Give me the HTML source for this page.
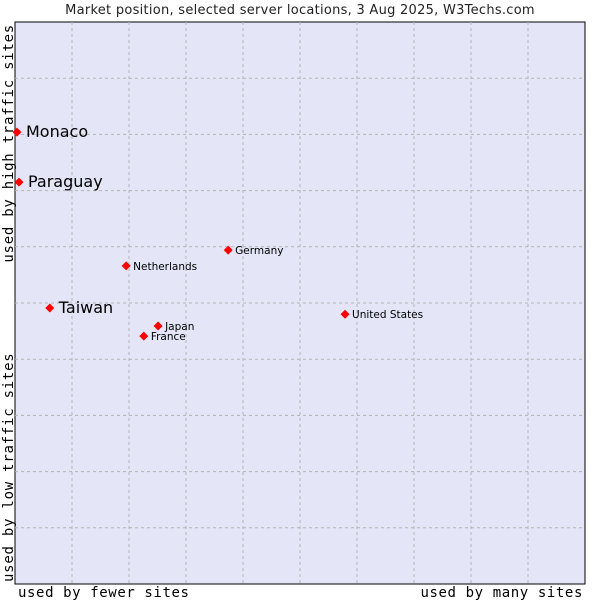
<!DOCTYPE html>
<html><head><meta charset="utf-8"><style>
body{margin:0;background:#fff;width:600px;height:600px;overflow:hidden}
text{font-family:"DejaVu Sans","Liberation Sans",sans-serif}
.mono{font-family:"DejaVu Sans Mono","Liberation Mono",monospace;letter-spacing:0.6px}
</style></head><body>
<svg id="chart" width="600" height="600" xmlns="http://www.w3.org/2000/svg">
<text x="300" y="14" text-anchor="middle" font-size="13" letter-spacing="0.27" fill="#222">Market position, selected server locations, 3 Aug 2025, W3Techs.com</text>
<rect x="15" y="22" width="570" height="562" fill="#e4e6f8" stroke="#000" stroke-width="1"/>
<g id="grid"></g>
<g id="pts"></g>
<text class="mono" x="18" y="597" font-size="14" fill="#000">used by fewer sites</text>
<text class="mono" x="583" y="597" text-anchor="end" font-size="14" fill="#000">used by many sites</text>
<text class="mono" transform="translate(13,24) rotate(-90)" text-anchor="end" font-size="14" fill="#000" style="letter-spacing:0.75px">used by high traffic sites</text>
<text class="mono" transform="translate(13,582) rotate(-90)" font-size="14" fill="#000" style="letter-spacing:0.75px">used by low traffic sites</text>
</svg>
<script>
const names=["Monaco","Paraguay","Taiwan","Netherlands","Germany","Japan","France","United States"];
const xVals=[0.35,0.7,6.1,19.5,37.4,25.1,22.6,57.9];
const yVals=[80.4,71.5,49.1,56.6,59.4,45.9,44.1,48.0];
const bigLabel=[true,true,true,false,false,false,false,false];
const X0=15,X1=585,Y0=584,Y1=22;
const sx=v=>X0+(X1-X0)*v/100, sy=v=>Y0-(Y0-Y1)*v/100;
const NS="http://www.w3.org/2000/svg";
const g=document.getElementById('grid');
for(let i=1;i<10;i++){
 let l=document.createElementNS(NS,'line');
 
 
 l.setAttribute('x1',sx(i*10));l.setAttribute('x2',sx(i*10));l.setAttribute('y1',Y1);l.setAttribute('y2',Y0);
 l.setAttribute('stroke','#b4b4b4');l.setAttribute('stroke-dasharray','3,3');g.appendChild(l);
 let m=document.createElementNS(NS,'line');
 
 
 m.setAttribute('y1',sy(i*10));m.setAttribute('y2',sy(i*10));m.setAttribute('x1',X0);m.setAttribute('x2',X1);
 m.setAttribute('stroke','#b4b4b4');m.setAttribute('stroke-dasharray','3,3');g.appendChild(m);
}
const p=document.getElementById('pts');
names.forEach((n,i)=>{
 const x=sx(xVals[i]),y=sy(yVals[i]);
 let c=document.createElementNS(NS,'polygon');
 
 
 c.setAttribute('points',`${x},${y-4.5} ${x+4.5},${y} ${x},${y+4.5} ${x-4.5},${y}`);
 c.setAttribute('fill','#f00');p.appendChild(c);
 let t=document.createElementNS(NS,'text');
 
 
 const big=bigLabel[i];
 t.setAttribute('x',x+(big?9:7));t.setAttribute('y',y+(big?5:4));
 t.setAttribute('font-size',big?16:10.5);t.setAttribute('fill','#000');
 t.textContent=n;p.appendChild(t);
});
</script>
</body></html>
